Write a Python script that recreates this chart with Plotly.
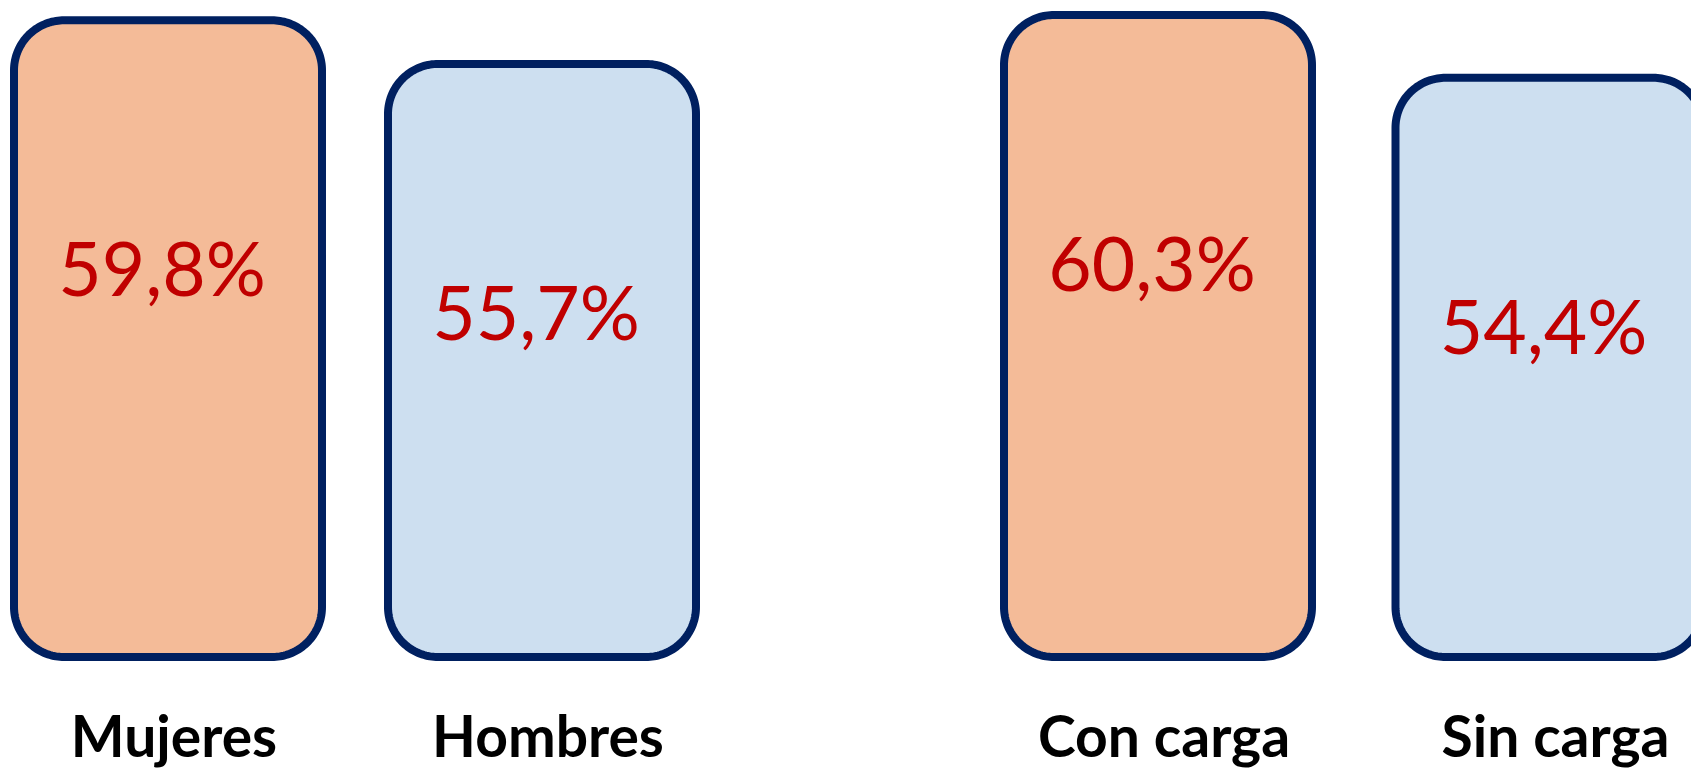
import numpy as np
import plotly.graph_objects as go

# ---------------- data ----------------
categories_sexo = ["Mujeres", "Hombres"]
values_sexo = [59.8, 55.7]
categories_carga = ["Con carga", "Sin carga"]
values_carga = [60.3, 54.4]

# ---------------- styles ----------------
FILL_COLORS = ["#F4BB98", "#CDDFF0"]
EDGE_COLOR = "#002060"
VALUE_COLOR = "#C00000"
EDGE_W = 8

W, H = 1691, 778
M_T, M_B = 0, 92
PLOT_H = H - M_T - M_B          # 686 px
Y_ZERO_PX = 657                 # pixel (from plot top) of value 0
PX_PER_Y = 10.647               # pixels per percentage point
Y_RANGE = [-(PLOT_H - Y_ZERO_PX) / PX_PER_Y, Y_ZERO_PX / PX_PER_Y]

# subplot pixel layouts: (domain px left, domain px right, px of x=0, px per x unit)
PANELS = [
    dict(cats=categories_sexo, vals=values_sexo, axis="x", dom=(0, 770), x0=168, ppx=374.0),
    dict(cats=categories_carga, vals=values_carga, axis="x2", dom=(860, W), x0=1158, ppx=391.5),
]

HALF_W_PX = 154     # half width of the box path
RADIUS_PX = 50      # corner radius of the box path
TEXT_DROP_PX = 257  # value label distance below box top
TEXT_SHIFT_PX = -6  # value label horizontal shift


def rounded_rect(xc, hw, y0, y1, rx, ry, n=40):
    xs, ys = [], []
    corners = [
        (xc + hw - rx, y1 - ry, 0, 90),
        (xc - hw + rx, y1 - ry, 90, 180),
        (xc - hw + rx, y0 + ry, 180, 270),
        (xc + hw - rx, y0 + ry, 270, 360),
    ]
    for cx, cy, a0, a1 in corners:
        t = np.radians(np.linspace(a0, a1, n))
        xs.extend(cx + rx * np.cos(t))
        ys.extend(cy + ry * np.sin(t))
    xs.append(xs[0])
    ys.append(ys[0])
    return xs, ys


def fmt(v):
    return f"{v:.1f}".replace(".", ",") + "%"


fig = go.Figure()

for p in PANELS:
    hw = HALF_W_PX / p["ppx"]
    rx = RADIUS_PX / p["ppx"]
    ry = RADIUS_PX / PX_PER_Y
    for i, v in enumerate(p["vals"]):
        xs, ys = rounded_rect(i, hw, 0, v, rx, ry)
        fig.add_trace(go.Scatter(
            x=xs, y=ys, mode="lines", fill="toself",
            fillcolor=FILL_COLORS[i],
            line=dict(color=EDGE_COLOR, width=EDGE_W, simplify=False),
            xaxis=p["axis"], yaxis="y", hoverinfo="skip", showlegend=False,
        ))
    fig.add_trace(go.Scatter(
        x=[i + TEXT_SHIFT_PX / p["ppx"] for i in range(len(p["vals"]))],
        y=[v - TEXT_DROP_PX / PX_PER_Y for v in p["vals"]],
        text=[fmt(v) for v in p["vals"]],
        mode="text", textposition="middle center",
        textfont=dict(family="Lato", size=75, color=VALUE_COLOR),
        xaxis=p["axis"], yaxis="y", hoverinfo="skip", showlegend=False,
    ))

tick_font = dict(family="Lato", size=57, color="#000000", weight="bold")

for p in PANELS:
    key = "xaxis" if p["axis"] == "x" else "xaxis2"
    fig.layout[key] = dict(
        domain=[p["dom"][0] / W, p["dom"][1] / W],
        range=[(p["dom"][0] - p["x0"]) / p["ppx"], (p["dom"][1] - p["x0"]) / p["ppx"]],
        tickmode="array",
        tickvals=list(range(len(p["cats"]))),
        ticktext=p["cats"],
        tickfont=tick_font,
        showgrid=False, zeroline=False, showline=False, ticks="",
        ticklabelstandoff=13,
        ticklabelshift=6,
        anchor="y", fixedrange=True,
    )

fig.update_layout(
    width=W, height=H,
    margin=dict(l=0, r=0, t=M_T, b=M_B, pad=0),
    paper_bgcolor="white", plot_bgcolor="white",
    yaxis=dict(range=Y_RANGE, visible=False, showgrid=False, zeroline=False, fixedrange=True),
    showlegend=False,
)

fig.write_html(
    "out.html",
    config={"displayModeBar": False},
    post_script="document.body.style.margin='0';document.documentElement.style.overflow='hidden';",
)
